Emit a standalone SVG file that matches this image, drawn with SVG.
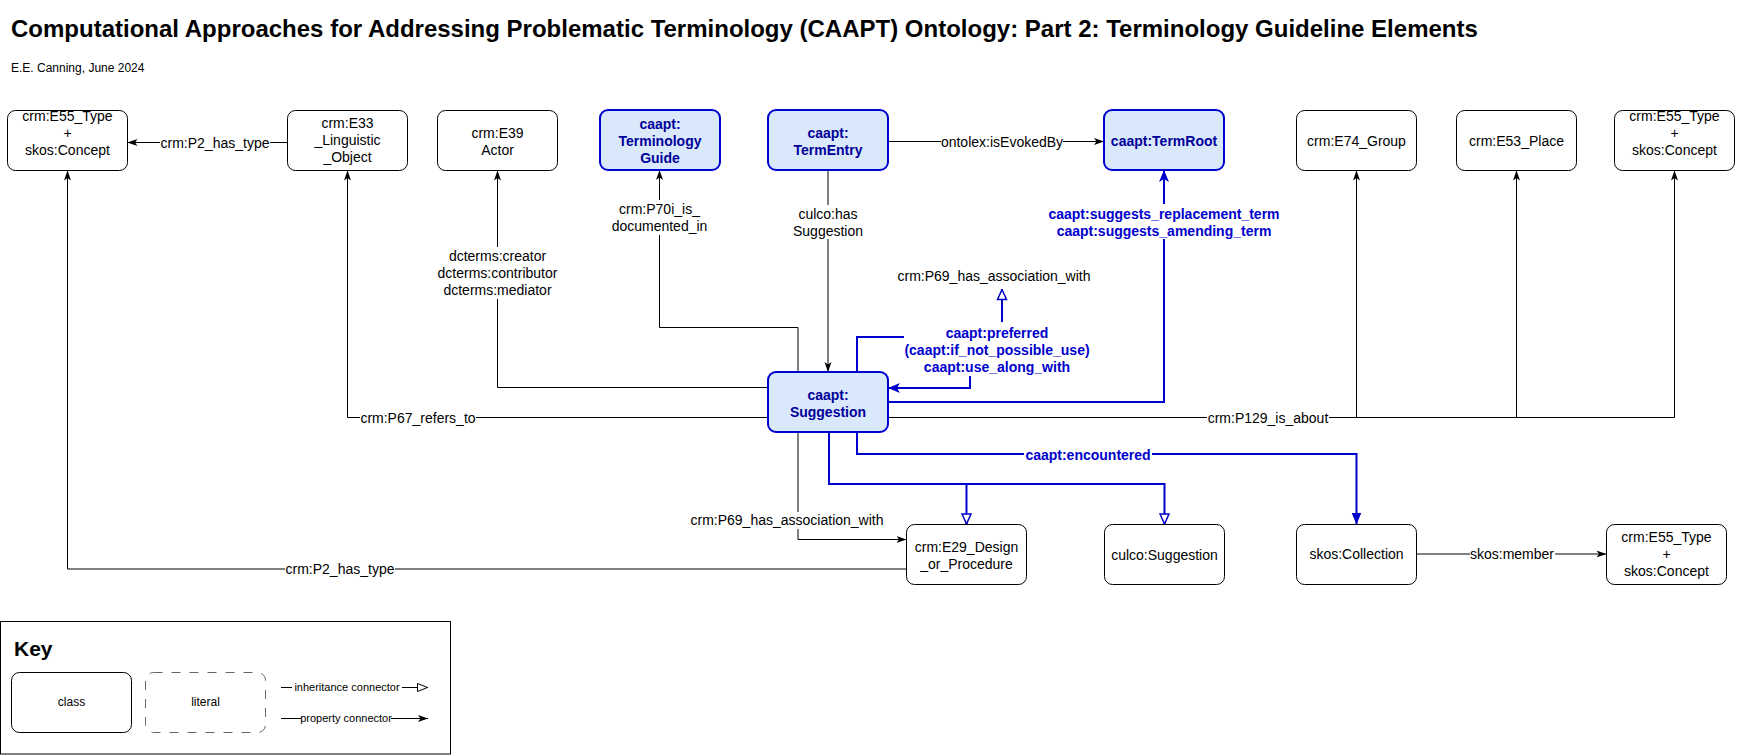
<svg xmlns="http://www.w3.org/2000/svg" width="1737" height="755" viewBox="0 0 1737 755">
<style>
text{font-family:"Liberation Sans",Arial,sans-serif;font-size:14px}
.node rect{fill:#fff;stroke:#000;stroke-width:1}
.cls rect{fill:#dae8fc;stroke:#0000CC;stroke-width:2}
.nt{text-anchor:middle;fill:#000}
.bt{text-anchor:middle;font-weight:bold;fill:#000099}
.el{text-anchor:middle;fill:#000}
.bl{text-anchor:middle;font-weight:bold;fill:#0000CC}
.bg{fill:#fff}
.e{fill:none;stroke:#000;stroke-width:1}
.eb{fill:none;stroke:#0000CC;stroke-width:2}
.k{font-size:11px;text-anchor:middle}
</style>
<defs>
<marker id="ah" markerUnits="userSpaceOnUse" viewBox="0 0 10 10" markerWidth="10" markerHeight="10" refX="10" refY="5" orient="auto"><path d="M0,1.5 L10,5 L0,8.5 L2.5,5 Z" fill="#000"/></marker>
<marker id="ahb" markerUnits="userSpaceOnUse" viewBox="0 0 12 12" markerWidth="12" markerHeight="12" refX="12" refY="6" orient="auto"><path d="M0,1 L12,6 L0,11 L3,6 Z" fill="#0000CC"/></marker>
<marker id="blk" markerUnits="userSpaceOnUse" viewBox="0 0 12 12" markerWidth="12" markerHeight="12" refX="12" refY="6" orient="auto"><path d="M0,1 L12,6 L0,11 Z" fill="#0000CC"/></marker>
<marker id="tri" markerUnits="userSpaceOnUse" viewBox="0 0 12 12" markerWidth="12" markerHeight="12" refX="11.5" refY="6" orient="auto"><path d="M1,1.5 L11,6 L1,10.5 Z" fill="#fff" stroke="#0000CC" stroke-width="1.5"/></marker>
<marker id="trik" markerUnits="userSpaceOnUse" viewBox="0 0 12 12" markerWidth="12" markerHeight="12" refX="11.5" refY="6" orient="auto"><path d="M1,2 L11,6 L1,10 Z" fill="#fff" stroke="#000" stroke-width="1"/></marker>
</defs>

<text x="11" y="37" style="font-size:24px;font-weight:bold">Computational Approaches for Addressing Problematic Terminology (CAAPT) Ontology: Part 2: Terminology Guideline Elements</text>
<text x="11" y="72" style="font-size:12px">E.E. Canning, June 2024</text>

<g id="connectors">
<path class="e" d="M287.5,142.5 H127.5" marker-end="url(#ah)"/>
<path class="e" d="M906.5,569 H67.5 V170.5" marker-end="url(#ah)"/>
<path class="e" d="M768,417.5 H347.5 V170.5" marker-end="url(#ah)"/>
<path class="e" d="M768,387.5 H497.5 V170.5" marker-end="url(#ah)"/>
<path class="e" d="M798,372 V327.5 H659.5 V170" marker-end="url(#ah)"/>
<path class="e" d="M828,170 V372" marker-end="url(#ah)"/>
<path class="e" d="M888,141.5 H1104" marker-end="url(#ah)"/>
<path class="e" d="M798,432 V539.5 H906.5" marker-end="url(#ah)"/>
<path class="e" d="M888,417.5 H1674.5 V170.5" marker-end="url(#ah)"/>
<path class="e" d="M1356.5,417.5 V170.5" marker-end="url(#ah)"/>
<path class="e" d="M1516.5,417.5 V170.5" marker-end="url(#ah)"/>
<path class="e" d="M1416.5,554 H1606.5" marker-end="url(#ah)"/>
<path class="eb" d="M888,402 H1164 V170" marker-end="url(#ahb)"/>
<path class="eb" d="M857,372 V337 H912"/>
<path class="eb" d="M970,376 V388 H888" marker-end="url(#ahb)"/>
<path class="eb" d="M1002,323 V289" marker-end="url(#tri)"/>
<path class="eb" d="M857,432 V454 H1356.5 V524.5" marker-end="url(#blk)"/>
<path class="eb" d="M829,432 V484 H1164.5 V524.5" marker-end="url(#tri)"/>
<path class="eb" d="M966.5,484 V524.5" marker-end="url(#tri)"/>

<rect class="bg" x="160" y="134" width="110" height="17"/>
<text class="el" x="215" y="147.5">crm:P2_has_type</text>
<rect class="bg" x="285" y="561" width="110" height="17"/>
<text class="el" x="340" y="574">crm:P2_has_type</text>
<rect class="bg" x="360" y="409" width="116" height="17"/>
<text class="el" x="418" y="422.5">crm:P67_refers_to</text>
<rect class="bg" x="437" y="247" width="122" height="52"/>
<text class="el" x="497.5" y="261">dcterms:creator</text>
<text class="el" x="497.5" y="278">dcterms:contributor</text>
<text class="el" x="497.5" y="295">dcterms:mediator</text>
<rect class="bg" x="611" y="200" width="98" height="35"/>
<text class="el" x="659.5" y="214">crm:P70i_is_</text>
<text class="el" x="659.5" y="231">documented_in</text>
<rect class="bg" x="792" y="205" width="72" height="34"/>
<text class="el" x="828" y="219">culco:has</text>
<text class="el" x="828" y="236">Suggestion</text>
<rect class="bg" x="941" y="133" width="122" height="17"/>
<text class="el" x="1002" y="146.5">ontolex:isEvokedBy</text>
<rect class="bg" x="1048" y="204" width="234" height="35"/>
<text class="bl" x="1164" y="219">caapt:suggests_replacement_term</text>
<text class="bl" x="1164" y="236">caapt:suggests_amending_term</text>
<rect class="bg" x="904" y="322" width="188" height="54"/>
<text class="bl" x="997" y="338">caapt:preferred</text>
<text class="bl" x="997" y="355">(caapt:if_not_possible_use)</text>
<text class="bl" x="997" y="372">caapt:use_along_with</text>
<text class="el" x="994" y="281">crm:P69_has_association_with</text>
<rect class="bg" x="1024" y="446" width="128" height="17"/>
<text class="bl" x="1088" y="460">caapt:encountered</text>
<rect class="bg" x="690" y="512" width="194" height="17"/>
<text class="el" x="787" y="525">crm:P69_has_association_with</text>
<rect class="bg" x="1207" y="409" width="122" height="17"/>
<text class="el" x="1268" y="422.5">crm:P129_is_about</text>
<rect class="bg" x="1470" y="546" width="85" height="17"/>
<text class="el" x="1512" y="559">skos:member</text>
</g>

<g id="n-e55-a" class="node"><rect x="7.5" y="110.5" width="120" height="60" rx="8"/><text class="nt" x="67.5" y="121">crm:E55_Type</text><text class="nt" x="67.5" y="138">+</text><text class="nt" x="67.5" y="155">skos:Concept</text></g>
<g id="n-e33" class="node"><rect x="287.5" y="110.5" width="120" height="60" rx="8"/><text class="nt" x="347.5" y="128">crm:E33</text><text class="nt" x="347.5" y="145">_Linguistic</text><text class="nt" x="347.5" y="162">_Object</text></g>
<g id="n-e39" class="node"><rect x="437.5" y="110.5" width="120" height="60" rx="8"/><text class="nt" x="497.5" y="137.5">crm:E39</text><text class="nt" x="497.5" y="154.5">Actor</text></g>
<g id="n-guide" class="cls"><rect x="600" y="110" width="120" height="60" rx="8"/><text class="bt" x="660" y="129">caapt:</text><text class="bt" x="660" y="146">Terminology</text><text class="bt" x="660" y="163">Guide</text></g>
<g id="n-termentry" class="cls"><rect x="768" y="110" width="120" height="60" rx="8"/><text class="bt" x="828" y="138">caapt:</text><text class="bt" x="828" y="155">TermEntry</text></g>
<g id="n-termroot" class="cls"><rect x="1104" y="110" width="120" height="60" rx="8"/><text class="bt" x="1164" y="146">caapt:TermRoot</text></g>
<g id="n-e74" class="node"><rect x="1296.5" y="110.5" width="120" height="60" rx="8"/><text class="nt" x="1356.5" y="146">crm:E74_Group</text></g>
<g id="n-e53" class="node"><rect x="1456.5" y="110.5" width="120" height="60" rx="8"/><text class="nt" x="1516.5" y="146">crm:E53_Place</text></g>
<g id="n-e55-b" class="node"><rect x="1614.5" y="110.5" width="120" height="60" rx="8"/><text class="nt" x="1674.5" y="121">crm:E55_Type</text><text class="nt" x="1674.5" y="138">+</text><text class="nt" x="1674.5" y="155">skos:Concept</text></g>
<g id="n-suggestion" class="cls"><rect x="768" y="372" width="120" height="60" rx="8"/><text class="bt" x="828" y="400">caapt:</text><text class="bt" x="828" y="417">Suggestion</text></g>
<g id="n-e29" class="node"><rect x="906.5" y="524.5" width="120" height="60" rx="8"/><text class="nt" x="966.5" y="552">crm:E29_Design</text><text class="nt" x="966.5" y="569">_or_Procedure</text></g>
<g id="n-culco" class="node"><rect x="1104.5" y="524.5" width="120" height="60" rx="8"/><text class="nt" x="1164.5" y="560">culco:Suggestion</text></g>
<g id="n-collection" class="node"><rect x="1296.5" y="524.5" width="120" height="60" rx="8"/><text class="nt" x="1356.5" y="559">skos:Collection</text></g>
<g id="n-e55-c" class="node"><rect x="1606.5" y="524.5" width="120" height="60" rx="8"/><text class="nt" x="1666.5" y="542">crm:E55_Type</text><text class="nt" x="1666.5" y="559">+</text><text class="nt" x="1666.5" y="576">skos:Concept</text></g>

<g id="key">
<rect x="0.5" y="621.5" width="450" height="132.5" fill="#fff" stroke="#000" stroke-width="1"/>
<text x="14" y="656" style="font-size:21px;font-weight:bold">Key</text>
<rect x="11.5" y="672.5" width="120" height="60" rx="8" fill="#fff" stroke="#000"/>
<text x="71.5" y="706" style="font-size:12px;text-anchor:middle">class</text>
<rect x="145.5" y="672.5" width="120" height="60" rx="8" fill="#fff" stroke="#666" stroke-dasharray="9 9"/>
<text x="205.5" y="706" style="font-size:12px;text-anchor:middle">literal</text>
<path class="e" d="M281,687.5 H428" marker-end="url(#trik)"/>
<rect class="bg" x="292" y="681" width="110" height="13"/>
<text class="k" x="347" y="691">inheritance connector</text>
<path class="e" d="M281,718.5 H428" marker-end="url(#ah)"/>
<rect class="bg" x="301" y="712" width="90" height="13"/>
<text class="k" x="346" y="722">property connector</text>
</g>
</svg>
